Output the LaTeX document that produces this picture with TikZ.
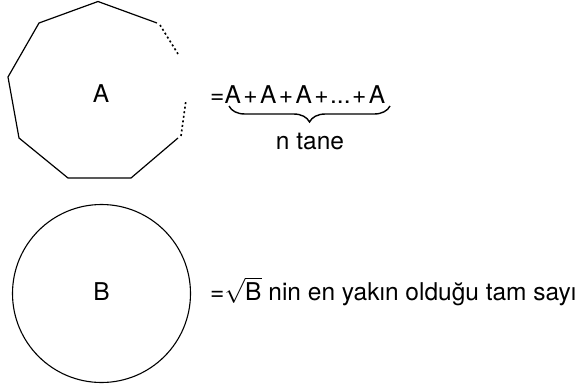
\documentclass[tikz,border=0pt]{standalone}
\usepackage{fontspec}
\setmainfont{TeX Gyre Heros}
\usetikzlibrary{decorations.pathreplacing}
\begin{document}
\begin{tikzpicture}[x=1pt,y=-1pt,
  shapeline/.style={line width=1.2pt,line join=round},
  dotline/.style={line width=1.6pt,dash pattern=on 2pt off 2.6pt},
  lbl/.style={inner sep=0pt,font=\fontsize{24.5}{29}\selectfont},
  bracestyle/.style={line width=1.4pt,decorate,
    decoration={brace,mirror,amplitude=16pt,aspect=0.5}}]
\useasboundingbox (0,0) rectangle (578,388);

% open polygon standing for an n-gon
\coordinate (v1) at (98,1.5);
\coordinate (v2) at (157,23);
\coordinate (v4) at (178,138);
\coordinate (v5) at (131,178);
\coordinate (v6) at (68,178);
\coordinate (v7) at (19,138);
\coordinate (v8) at (8,77);
\coordinate (v9) at (39,23);
\draw[shapeline] (v2) -- (v1) -- (v9) -- (v8) -- (v7) -- (v6) -- (v5) -- (v4);
\coordinate (d1a) at (160,25);
\coordinate (d1b) at (178,54);
\coordinate (d2a) at (186,100);
\coordinate (d2b) at (181,136);
\draw[dotline] (d1a) -- (d1b);
\draw[dotline] (d2b) -- (d2a);
\node[lbl,anchor=base] (A) at (101,102) {A};

% sum of n copies
\node[lbl,anchor=base west] (sum) at (210,103)
  {=A\hspace{0.1em}+\hspace{0.1em}A\hspace{0.1em}+\hspace{0.1em}A\hspace{0.1em}+\hspace{0.06em}...\hspace{0.06em}+\hspace{0.1em}A};
\coordinate (brL) at (229,106);
\coordinate (brR) at (390,106);
\draw[bracestyle] (brL) -- (brR);
\node[lbl,anchor=base] (count) at (310,149) {n tane};

% circle
\node[draw,circle,line width=1.1pt,minimum size=178pt,inner sep=0pt] (circ) at (101.5,293.5) {};
\node[lbl,anchor=base] (B) at (101.5,300.5) {B};

\node[lbl,anchor=base west] (root) at (210,300.5)
  {=$\sqrt{\mbox{B}}$ nin en yakın olduğu tam sayı};
\end{tikzpicture}
\end{document}
